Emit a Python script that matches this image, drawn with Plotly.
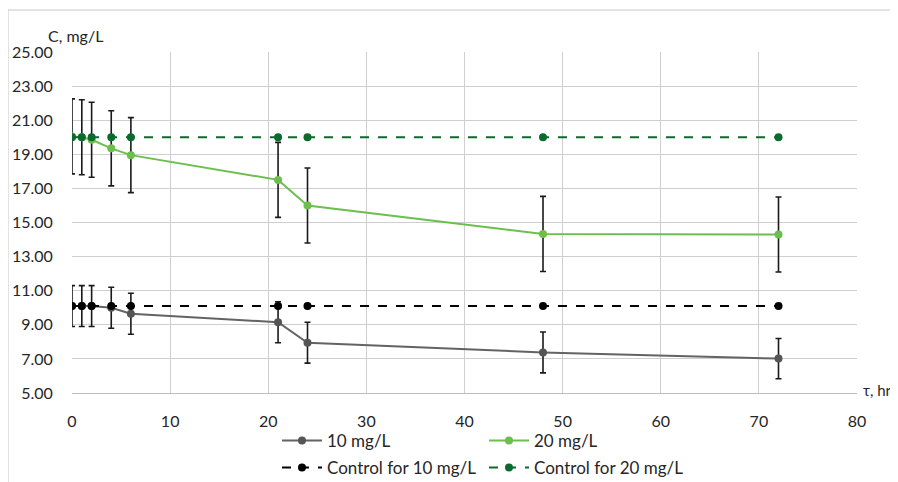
import plotly.graph_objects as go

time_hr = [0, 1, 2, 4, 6, 21, 24, 48, 72]
c_10 = [10.1, 10.1, 10.1, 10.0, 9.65, 9.15, 7.95, 7.38, 7.02]
err_10 = [1.2, 1.2, 1.2, 1.2, 1.2, 1.2, 1.2, 1.2, 1.18]
c_20 = [20.05, 20.0, 19.85, 19.35, 18.95, 17.5, 16.0, 14.33, 14.3]
err_20 = [2.2, 2.2, 2.2, 2.2, 2.2, 2.2, 2.2, 2.2, 2.2]
ctrl_10 = [10.1] * 9
ctrl_20 = [20.0] * 9

x_ticks = [0, 10, 20, 30, 40, 50, 60, 70, 80]
y_ticks = [5, 7, 9, 11, 13, 15, 17, 19, 21, 23, 25]

FONT = "Lato, Carlito, Calibri, sans-serif"
TXT = "#262626"

fig = go.Figure()

eb = dict(type="data", visible=True, color="#1a1a1a", thickness=1.6, width=3)

fig.add_trace(go.Scatter(
    x=time_hr, y=c_10, name="10 mg/L", mode="lines+markers",
    line=dict(color="#636363", width=2), marker=dict(color="#555555", size=8),
    error_y=dict(array=err_10, **eb), legend="legend"))
fig.add_trace(go.Scatter(
    x=time_hr, y=c_20, name="20 mg/L", mode="lines+markers",
    line=dict(color="#6cbf4e", width=2), marker=dict(color="#6cbf4e", size=8),
    error_y=dict(array=err_20, **eb), legend="legend"))
fig.add_trace(go.Scatter(
    x=time_hr, y=ctrl_10, name="Control for 10 mg/L", mode="lines+markers",
    line=dict(color="#000000", width=2, dash="dash"), marker=dict(color="#000000", size=8),
    legend="legend2"))
fig.add_trace(go.Scatter(
    x=time_hr, y=ctrl_20, name="Control for 20 mg/L", mode="lines+markers",
    line=dict(color="#0b6b2e", width=2, dash="dash"), marker=dict(color="#0b6b2e", size=8),
    legend="legend2"))

OFF = 8  # page body margin
W, H = 898 - OFF, 482 - OFF
L = 72 - OFF
T = 52 - OFF
R = W - (857 - OFF)
B = H - (393 - OFF)
pw, ph = W - L - R, H - T - B

def px_x(p):
    return (p - OFF - L) / pw

def px_y(p):
    return (H - B - (p - OFF)) / ph

fig.update_layout(
    width=W, height=H,
    margin=dict(l=L, r=R, t=T, b=B, autoexpand=False),
    paper_bgcolor="white", plot_bgcolor="white",
    font=dict(family=FONT, size=16, color=TXT),
    xaxis=dict(range=[0, 80], tickvals=x_ticks, ticktext=[str(v) for v in x_ticks],
               showgrid=True, gridcolor="#cfcfcf", gridwidth=1, zeroline=False,
               showline=True, linecolor="#bdbdbd", linewidth=1, automargin=False,
               ticks="outside", ticklen=14, tickcolor="rgba(0,0,0,0)",
               tickfont=dict(size=16, color=TXT)),
    yaxis=dict(range=[5, 25], tickvals=y_ticks, ticktext=[f"{v:.2f}" for v in y_ticks],
               showgrid=True, gridcolor="#cfcfcf", gridwidth=1, zeroline=False,
               showline=False, automargin=False, ticks="outside", ticklen=15,
               tickcolor="rgba(0,0,0,0)", tickfont=dict(size=16, color=TXT)),
    legend=dict(orientation="h", x=px_x(277), xanchor="left", y=px_y(423), yanchor="top",
                entrywidth=152, entrywidthmode="pixels", font=dict(size=17, color=TXT),
                bgcolor="rgba(0,0,0,0)", tracegroupgap=0, itemwidth=40),
    legend2=dict(orientation="h", x=px_x(277), xanchor="left", y=px_y(450), yanchor="top",
                 entrywidth=152, entrywidthmode="pixels", font=dict(size=17, color=TXT),
                 bgcolor="rgba(0,0,0,0)", tracegroupgap=0, itemwidth=40),
    annotations=[
        dict(text="C, mg/L", xref="paper", yref="paper", x=px_x(46), y=px_y(35),
             xanchor="left", yanchor="middle", showarrow=False, font=dict(size=16, color=TXT)),
        dict(text="τ, hr", xref="paper", yref="paper", x=px_x(861), y=px_y(390),
             xanchor="left", yanchor="middle", showarrow=False, font=dict(size=15, color=TXT)),
    ],
    shapes=[
        dict(type="line", xref="paper", yref="paper", x0=px_x(8), x1=px_x(898),
             y0=px_y(10), y1=px_y(10), line=dict(color="#c8c8c8", width=1)),
        dict(type="line", xref="paper", yref="paper", x0=px_x(8), x1=px_x(8),
             y0=px_y(10), y1=px_y(482), line=dict(color="#c8c8c8", width=1)),
    ],
)

fig.write_html("out.html")
